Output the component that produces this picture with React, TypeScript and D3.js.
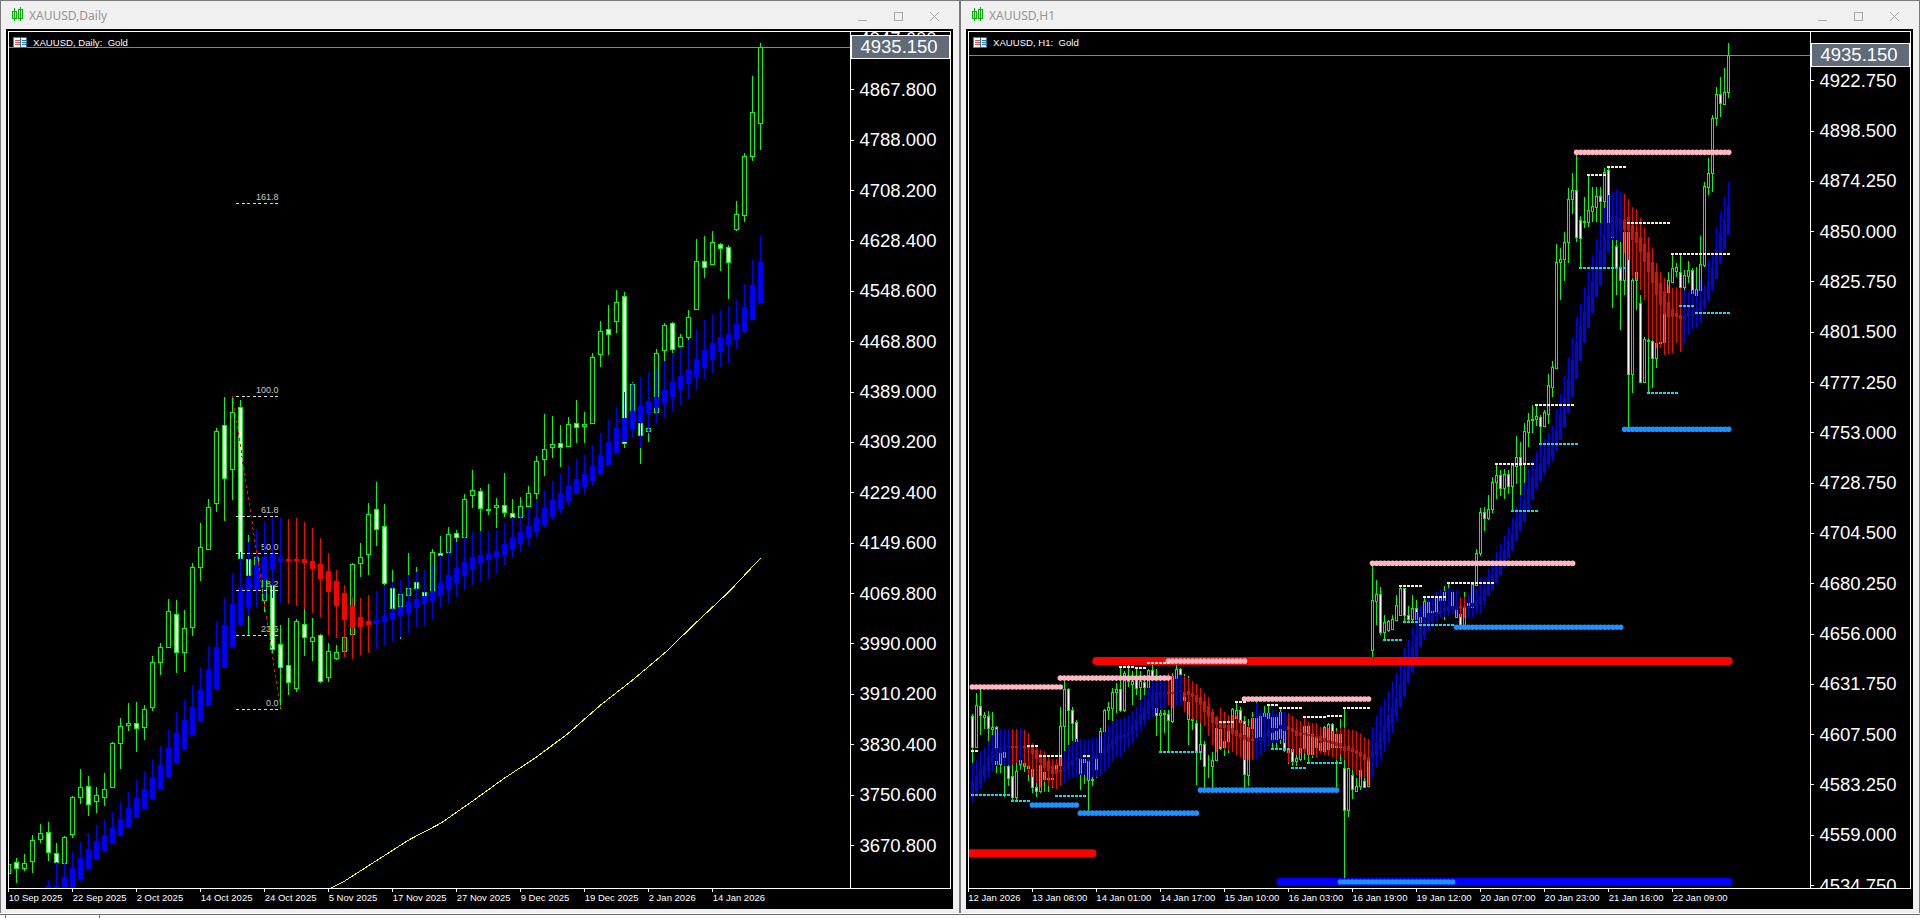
import * as d3 from "d3";
import React from "react";

type Bar = number[]; // open, high, low, close
type Level = number[]; // first bar, last bar, price

// XAUUSD daily candles: open, high, low, close
const dailyCandles: Bar[] = [
  [3627,3640.7,3626.5,3640.3],[3644.4,3649.8,3611.1,3633.9],[3634.9,3656.1,3630.1,3641.8],[3645,3686.7,3626,3678.3],[3679.9,3704.1,3674.5,3689.3],
  [3690.9,3707.3,3646,3659.3],[3658.6,3673.5,3631.2,3643.4],[3641.8,3685,3640.7,3684],[3687.8,3748.4,3682.4,3746.4],[3746.4,3790.7,3735.8,3763.2],
  [3764.8,3780.1,3717.2,3735.3],[3740,3762.2,3722,3749.5],[3746.4,3784.4,3733.1,3759],[3763.2,3834,3762.7,3832.9],[3831.9,3872,3791.7,3858.8],
  [3860.4,3895.3,3851.9,3864.5],[3863.6,3896.9,3818.6,3855.7],[3857.3,3892.1,3837.6,3885.8],[3889.9,3970.2,3883.5,3960.2],[3960.2,3990.3,3940.6,3984],
  [3984.9,4060,3984,4041],[4036.3,4058.9,3943.7,3976.1],[3976.1,4043.1,3944.9,4014.1],[4015.7,4117,4001.9,4110.7],[4111.6,4180.4,4089.5,4142.4],
  [4139.2,4218.4,4138.1,4206.7],[4212.1,4331.3,4198.3,4326.1],[4336.6,4380,4184.5,4251.7],[4265.9,4381.6,4217.3,4356.2],[4365.1,4375.7,4123.4,4125],
  [4123.4,4161.9,4002.3,4098.5],[4106.4,4153.9,4090.6,4126.5],[4058.9,4114.3,4039.9,4098.5],[4082.7,4087.4,3973.3,3980.8],[3988.7,4019.3,3885.8,3952.3],
  [3955.5,4029.9,3908.4,3929.5],[3920,4028.3,3913.6,4025.2],[4020.4,4046.3,3970.2,4000.8],[3994.4,4029.9,3962.8,4000.8],[4003.9,4005,3927.9,3931.1],
  [3937.4,3990.3,3929.5,3978.6],[3967.5,3987.6,3963.9,3976.1],[3978.6,4043.1,3970.7,3999.8],[4004.6,4117,4004.3,4115.4],[4117,4148.7,4095.8,4126.5],
  [4131.3,4212.1,4098.5,4194.7],[4202.6,4245.8,4144.4,4170.9],[4176.6,4211,4081.6,4085.3],[4077.4,4106.4,4043.1,4045.7],[4049.9,4090.6,3997.1,4067.9],
  [4066.8,4132.9,4027.2,4077.4],[4087.9,4111.6,4043.1,4077.4],[4072,4080,4058.9,4065.2],[4072,4139.2,4058.9,4134.5],[4132.9,4160.3,4074.7,4129.7],
  [4134.5,4174.1,4134.2,4163],[4164.6,4169.8,4151.3,4158.2],[4159.2,4226.8,4158.7,4218.4],[4225.7,4264.8,4205.1,4232.7],[4231.1,4235.8,4168.2,4205.1],
  [4201.5,4242.6,4193.5,4203],[4205.7,4220,4173.4,4208.9],[4208.9,4259.6,4190.8,4197.8],[4197.2,4218.9,4169.8,4189.9],[4190.8,4221.6,4190.4,4207.3],
  [4208.3,4239.5,4205.7,4227.9],[4227.9,4287,4218.9,4278.6],[4282.7,4353,4255.8,4297.6],[4301.7,4350.4,4284.3,4306],[4307.1,4336.1,4270,4301.7],
  [4303.3,4348.8,4301.7,4337.2],[4338.8,4375.7,4308.1,4332.5],[4335,4356.7,4308.1,4337.2],[4339.7,4449.7,4338.8,4443.3],[4448.1,4500.8,4428.4,4484.5],
  [4487.7,4526.2,4447,4479.8],[4501.3,4549.9,4482.3,4530.5],[4540,4546.3,4300.1,4307.1],[4342.4,4403.7,4331.3,4401],[4339.7,4402.6,4273.8,4319.8],
  [4326.1,4339.3,4309.6,4330.9],[4356.2,4456,4355.1,4449.7],[4454.9,4497.2,4437.5,4494],[4498.1,4499.7,4449.7,4456],[4461.2,4480.2,4457.6,4476],
  [4476,4518.3,4470.7,4507.6],[4519.8,4630.7,4518.3,4596.4],[4596.4,4635.5,4569.4,4585.9],[4590.6,4643.4,4589.5,4625.5],[4623.3,4624.4,4580.5,4616],
  [4618.5,4620.7,4535.7,4594.8],[4647,4690.9,4643.9,4669.8],[4668.3,4766.5,4658.1,4762.7],[4761.7,4888.9,4754.3,4831.4],[4814.9,4940.7,4771.7,4935.15],
];

// smoothed heikin ashi overlay on the daily chart: open, high, low, close
const dailyHeikin: Bar[] = [
  [3540,3560,3530,3550],[3545,3570,3535,3555],[3550,3575,3540,3560],[3555,3580,3545,3565],[3560,3590,3550,3570],
  [3575.8,3615.4,3567.8,3605.9],[3583.7,3644.4,3575.8,3605.9],[3590,3644.4,3583.7,3620.6],[3602.7,3659.3,3591.6,3633.9],[3617.4,3675.1,3614.3,3650.2],
  [3633.3,3689.3,3632.3,3664],[3647.5,3702,3647,3677.2],[3661.8,3711.5,3660.2,3686.2],[3673.5,3723.1,3672.4,3697.3],[3685.6,3738.9,3685.1,3711.5],
  [3698.2,3755.3,3697.7,3728.9],[3714.1,3773.8,3713.6,3744.8],[3727.8,3787.6,3727.3,3759],[3743.7,3806.6,3743.2,3776.5],[3759.5,3827.6,3759,3797.1],
  [3778.5,3854.1,3778,3824],[3800.7,3881.5,3800.2,3847.7],[3822.9,3900.5,3822.4,3868.3],[3845.1,3924.3,3844.6,3888.9],[3867.3,3952.3,3866.8,3916.3],
  [3891.5,3986,3891,3948],[3917.9,4023.6,3917.4,3984],[3951.7,4064.1,3951.2,4018.8],[3984.9,4100.1,3984.4,4052.6],[4018.8,4134.5,4017.7,4079],
  [4048.3,4151.3,4033.6,4095.3],[4072.7,4170.9,4048.3,4113.9],[4090.6,4184,4058.9,4127],[4108,4190.8,4062.5,4132.3],[4119.1,4189.9,4053.7,4127],
  [4123.8,4187.2,4052.6,4122.3],[4124.3,4188.3,4049.9,4120.7],[4123.4,4182.9,4044.6,4117],[4120.7,4172.9,4037.8,4108],[4115.9,4157.1,4032.4,4092.2],
  [4104.8,4132.9,4003.5,4071.6],[4089,4106.4,3998.3,4049.4],[4069.5,4082.7,3969.1,4027.2],[4049.4,4063.2,3965.4,4015],[4031.5,4062.1,3971.8,4016.1],
  [4025.6,4066.8,3974.9,4019.3],[4020.9,4073.2,3980.8,4027.2],[4024.5,4082.2,3986,4033.6],[4027.2,4087.4,3994.4,4039.9],[4033.6,4090.6,4000.8,4047.3],
  [4038.8,4098.5,4006.6,4056.2],[4045.7,4103.3,4016.6,4061],[4053,4107.5,4019.3,4065.7],[4057.3,4117,4027.2,4073.2],[4065.7,4130.2,4048.3,4085.3],
  [4075.2,4140.8,4052.6,4098],[4086.3,4151.3,4064.1,4109.6],[4097.4,4159.2,4074.7,4118.6],[4106.9,4167.1,4082.7,4126.5],[4116.4,4168.2,4087.9,4129.7],
  [4122.7,4168.2,4090.6,4131.8],[4127,4169.8,4101.2,4136.5],[4130.2,4180.4,4114.3,4147.6],[4138.6,4189.9,4125,4158.2],[4148.1,4196.2,4135.4,4166.6],
  [4157.6,4205.7,4146,4175.6],[4167.1,4218.4,4158.2,4189.9],[4177.7,4233.1,4174.1,4204.6],[4190.4,4247.4,4187.2,4217.3],[4203,4258,4196.7,4227.9],
  [4214.6,4271.2,4208.3,4239.5],[4227.3,4281.8,4226.8,4250.1],[4237.9,4288.6,4226.8,4258.5],[4247.4,4304.4,4240,4271.2],[4259,4322.9,4255.3,4288.1],
  [4272.7,4344,4272,4309.2],[4291.3,4364.1,4291,4330.9],[4309.6,4388.8,4309.2,4346.7],[4329.3,4402.2,4316,4357.8],[4342,4411.7,4299.7,4366.2],
  [4354,4419.6,4323.4,4373.6],[4362.6,4425.9,4338.8,4380],[4371.4,4437.5,4347.7,4391.1],[4380.9,4448.6,4358.3,4403.7],[4392,4460.1,4367.3,4413.7],
  [4401.5,4470.7,4376.8,4424.3],[4412.6,4487.7,4391.5,4440.2],[4426.9,4502.4,4408.5,4454.4],[4439.5,4511.9,4418.9,4465.5],[4452.2,4518.3,4428.4,4475],
  [4463.3,4524.6,4433.8,4479.8],[4471.3,4534.1,4456.5,4496.1],[4483.9,4559.4,4481.3,4522.5],[4502.9,4597.5,4502.4,4557.4],[4529.8,4635.5,4529.3,4593.8],
];

// long moving average on the daily chart, read every few bars
const dailyMaBars = [40, 42, 46, 50, 54, 58, 62, 66, 70, 74, 78, 82, 86, 90, 94];
const dailyMaValues = [3601, 3613.8, 3646.3, 3678.7, 3705.2, 3740.5, 3777, 3810.2, 3848.2, 3892.6, 3932.2, 3974.9, 4024, 4071.6, 4125.4];

const dailyTicks = [4947.6, 4867.8, 4788, 4708.2, 4628.4, 4548.6, 4468.8, 4389, 4309.2, 4229.4, 4149.6, 4069.8, 3990, 3910.2, 3830.4, 3750.6, 3670.8];
const dailyTimeBars = [0, 8, 16, 24, 32, 40, 48, 56, 64, 72, 80, 88];
const dailyTimeLabels = ["10 Sep 2025", "22 Sep 2025", "2 Oct 2025", "14 Oct 2025", "24 Oct 2025", "5 Nov 2025", "17 Nov 2025", "27 Nov 2025", "9 Dec 2025", "19 Dec 2025", "2 Jan 2026", "14 Jan 2026"];

const fibLevels = [0, 23.6, 38.2, 50, 61.8, 100, 161.8];
const fibHigh = 4381.6;
const fibLow = 3885.8;
const fibHighBar = 28;
const fibLowBar = 34;

// XAUUSD H1 candles: open, high, low, close
const h1Candles: Bar[] = [
  [4616,4617.2,4593.5,4601.5],[4601.5,4627.4,4601.2,4621.3],[4621.1,4629.4,4607.2,4616.5],[4615.9,4618.4,4610.1,4616.8],[4616.3,4618.7,4602.4,4610.4],
  [4610.2,4618.4,4600,4610.9],[4610.9,4611.2,4588.9,4593.2],[4593.2,4600.9,4588.9,4599],[4596.6,4599.5,4577.4,4599.5],[4591.9,4599.1,4582.3,4586.3],
  [4587.4,4593.8,4575,4577.4],[4577.4,4593.8,4575,4589.8],[4593.2,4599,4590.3,4595.1],[4592.2,4597.5,4589.3,4593.7],[4591.2,4601.5,4585.1,4591.9],
  [4590.8,4602.4,4579.1,4581.8],[4582,4587,4577.4,4580.3],[4580.3,4592.7,4579.1,4592.7],[4585.8,4591.9,4579.8,4589],[4585.8,4588.9,4579.8,4586.3],
  [4585.8,4588.9,4581.5,4586.3],[4590.3,4595.1,4581.2,4592.7],[4592.7,4620.8,4587.9,4611.5],[4611.2,4633.3,4598.5,4629.2],[4629.2,4629.8,4601.5,4618.9],
  [4619.2,4620.8,4604,4613.1],[4613.3,4614.4,4589.8,4604],[4588.9,4603.2,4580.7,4596.6],[4594.2,4597.5,4583.6,4597.5],[4585.5,4597.5,4570.2,4597.5],
  [4585.2,4596.7,4582.3,4585.8],[4590.8,4596,4586.3,4596],[4598.4,4610.6,4591.9,4608.8],[4608.8,4619.7,4598.5,4619.2],[4618.9,4623.2,4614.4,4620.5],
  [4620,4629.7,4613.6,4628],[4628,4632.1,4617.6,4629.2],[4629.2,4639.3,4618.4,4619.2],[4619.2,4637.7,4618.4,4636.9],[4632.9,4640.6,4630.2,4633.7],
  [4631.8,4638,4621.3,4633.2],[4635.3,4639.3,4626.5,4629.8],[4630,4638,4624.1,4632.9],[4632.6,4636,4624.1,4630],[4630.2,4639,4622.6,4638.5],
  [4638.5,4640.9,4629.8,4634.5],[4620.3,4639,4606.7,4616.8],[4616.8,4619.6,4599.1,4617.6],[4617.2,4619.2,4608,4617.6],[4617.3,4619.2,4599.1,4614.1],
  [4613.9,4636.9,4612.8,4635.3],[4634.5,4640.9,4628.9,4639],[4638.8,4639.4,4634.7,4636.4],[4624.1,4636.6,4621.6,4626.5],[4614.7,4635.3,4602.4,4623.2],
  [4614.5,4622.6,4609.6,4614.9],[4612.8,4614.4,4583.1,4599.1],[4599.1,4612.8,4594.8,4602.9],[4602.9,4604.3,4581.5,4591.9],[4591.9,4597.5,4586.3,4592.2],
  [4591.9,4598.9,4581.5,4595],[4595,4610.7,4594.3,4610.4],[4610.1,4619.7,4600,4600.8],[4601.2,4616.8,4597.1,4604.3],[4604.3,4616.8,4598.5,4609.1],
  [4610.6,4620.3,4608.6,4619.6],[4615.4,4622.7,4613,4619.2],[4618.9,4620.8,4612,4613.3],[4613.6,4616.3,4581.5,4588.2],[4587.6,4614.9,4582.6,4610.9],
  [4610.4,4618.1,4604.8,4615.2],[4615.2,4623.2,4600.4,4605.2],[4605.6,4616.8,4604.8,4616],[4616,4621.2,4615.4,4617.6],[4615.2,4621.2,4610.6,4617.6],
  [4605.2,4616,4600.4,4615.7],[4605.2,4617.8,4600.4,4615.9],[4605.6,4620.3,4602.9,4618.4],[4610.1,4618.4,4599.1,4600],[4599.1,4610.6,4593.2,4600.8],
  [4600.3,4600.9,4592.2,4594.3],[4594.3,4600.9,4592.2,4596],[4595.6,4607.2,4594.6,4600.8],[4600.8,4615.7,4594.8,4611.5],[4611.5,4612,4593.1,4597.9],
  [4597.9,4608,4596,4607.7],[4601.5,4611,4600.9,4605.6],[4600,4605.7,4599.6,4603.2],[4599.6,4611.2,4599.5,4610.7],[4600.3,4613,4599.6,4612.3],
  [4612.5,4613.1,4600.9,4601.2],[4601.2,4610.6,4582,4607.7],[4601.2,4614.8,4594.3,4607.7],[4591.1,4620,4538.3,4570.7],[4570.7,4591.8,4567.3,4591.4],
  [4587.9,4591.9,4576.3,4581],[4580.2,4586.3,4579.8,4582.6],[4582.3,4590.3,4580.7,4590.3],[4584.7,4590.3,4581.5,4581.8],[4582.3,4594.6,4582.1,4594.3],
  [4648.2,4689.1,4644.9,4672.2],[4671.9,4681.9,4660.2,4675.2],[4675.2,4678.4,4655.4,4656.5],[4656.5,4665,4652.2,4661.8],[4657.8,4662.6,4656.8,4662.1],
  [4658.3,4665,4657.8,4663],[4662.6,4674.7,4662.6,4669.8],[4665,4678.7,4664.5,4678],[4677.9,4678,4661.8,4664.7],[4665,4669.5,4661,4663.1],
  [4663.1,4674.7,4661,4668.2],[4668.4,4672.2,4662.6,4663.1],[4661.2,4664.2,4657.8,4663.9],[4664.2,4673.8,4663.4,4671.8],[4666.2,4673.8,4664,4671.4],
  [4666,4673.2,4665.5,4667],[4666.6,4673.8,4666.3,4673.5],[4674.2,4675.6,4665,4672.2],[4672.2,4679,4662.6,4676],[4675.8,4680.3,4674.7,4676.2],
  [4676.2,4676.6,4668.9,4669.8],[4664.2,4668.9,4664,4668.2],[4665.4,4666.5,4659.7,4660.2],[4660.2,4676.1,4660.1,4669],[4669.3,4674.7,4667.4,4670.8],
  [4669,4681,4668.4,4680],[4679.5,4696.7,4679.2,4694.7],[4694.7,4716.4,4693.5,4714.5],[4714.5,4716.9,4705.2,4711.9],[4711.9,4722.9,4710.8,4716],
  [4716,4731.4,4714.3,4729],[4729,4737.3,4720.9,4732.5],[4732.2,4734.9,4722.4,4726.1],[4726.4,4735.4,4720.9,4732.8],[4732.8,4734.9,4723.4,4727.3],
  [4727.3,4737.3,4715.3,4737.3],[4737,4751.3,4728.2,4741],[4741,4748.3,4722.9,4737.3],[4738.1,4757.4,4728.6,4753.6],[4753.2,4762.2,4745.7,4758.9],
  [4758.9,4766.2,4752.6,4759.4],[4759.4,4766.2,4756.1,4761],[4760.6,4761.4,4747.8,4756.3],[4756.3,4763.8,4755.8,4762.7],[4761.8,4781.2,4757.1,4775.7],
  [4775,4787.5,4770.2,4784.4],[4783.9,4843.7,4783.6,4835],[4835,4841.8,4816.9,4836.5],[4836.5,4849.5,4826.2,4845],[4844.7,4870.7,4834.7,4865.4],
  [4865.4,4878,4858.3,4869.9],[4869.9,4886.8,4845,4847.1],[4855.4,4857.3,4832.4,4846.6],[4854.4,4866.5,4851.4,4855.1],[4854.6,4877.1,4852.2,4860.2],
  [4859.9,4871.2,4854.6,4862.2],[4861.8,4871.2,4854.6,4867],[4867,4871.5,4825.7,4864.7],[4864.7,4880.3,4853.8,4878.7],[4879.5,4881.1,4839.4,4854.6],
  [4847.2,4857.8,4813,4855.4],[4842.9,4847.4,4819.3,4832.9],[4832.9,4847.4,4802.4,4826.5],[4826.5,4849.8,4819.3,4849.8],[4849.8,4850.1,4755.2,4781.2],
  [4781.2,4827.4,4771.9,4826.5],[4826.5,4830.8,4812.1,4830.5],[4815.3,4819.3,4776.9,4777.5],[4777.5,4798.9,4777.3,4797.9],[4797.1,4808.8,4772.2,4797.6],
  [4797.2,4797.6,4774.3,4788.7],[4788.7,4797.2,4783.9,4796.2],[4796.2,4810.6,4793.7,4796.7],[4796.7,4819.3,4796,4810.4],[4820.9,4830.5,4820,4826.5],
  [4825.7,4838.9,4825.2,4832.4],[4831,4834.5,4828.1,4832.6],[4830.5,4838.5,4822.2,4823],[4823,4831.3,4820.4,4828.9],[4828.6,4835.8,4824.9,4831.2],
  [4831.2,4832.3,4819.3,4820.4],[4819.3,4832.8,4818.3,4822],[4821.7,4847.7,4820.7,4834.2],[4833.7,4873.6,4832.8,4871.8],[4871.5,4885.4,4867.5,4878],
  [4878,4906,4869,4904.4],[4904.4,4919.4,4900.7,4916],[4916,4924.2,4904.9,4911.7],[4911.3,4928.5,4910.8,4917],[4917,4940.6,4914.4,4935.15],
];

// smoothed heikin ashi overlay on the H1 chart: open, high, low, close
const h1Heikin: Bar[] = [
  [4576.7,4593.7,4575,4585],[4579.9,4595.1,4578.3,4587.4],[4583.6,4598.9,4581,4590.8],[4586.8,4601.3,4584.2,4592.7],[4589.8,4604,4586.5,4596.6],
  [4593.1,4607.2,4589.5,4599.5],[4594.3,4610.1,4591.9,4601],[4598.4,4610.1,4593.8,4601.9],[4599,4609.9,4592.2,4602.4],[4600.8,4609.9,4592.4,4602.4],
  [4601.9,4610.1,4592.7,4600.9],[4601.9,4610.1,4593.5,4601],[4601,4610.9,4594,4601.9],[4601.9,4609.6,4592.2,4600.8],[4601.9,4608,4587.9,4600.3],
  [4601.5,4603.2,4587,4598],[4600,4601.9,4583.9,4595.5],[4597.9,4600,4582,4593.5],[4596.7,4599.5,4584.2,4591.1],[4594.3,4597.5,4582.6,4589.8],
  [4592.2,4595.5,4582,4588.4],[4590.8,4595.6,4581,4588.4],[4590,4596.7,4582.3,4589.5],[4589.5,4599.6,4583.9,4591.9],[4590.3,4602.2,4585.8,4594.3],
  [4592.2,4603.2,4586.8,4595.1],[4594.3,4605.2,4586.9,4596.4],[4595.5,4605.1,4587.9,4596.7],[4595.6,4605.2,4587.9,4596.7],[4594.3,4605.2,4585.5,4597.2],
  [4595.6,4605.6,4586.8,4597],[4595.6,4605.6,4586.8,4597],[4597,4606.8,4587.1,4598.4],[4597.2,4609.1,4589,4600.8],[4598.4,4611.7,4591.6,4602.9],
  [4600.4,4613.9,4594,4605.1],[4602.4,4614.8,4596.4,4606.7],[4604.4,4614.8,4596.7,4607.2],[4605.6,4615.7,4598.9,4607.7],[4605.9,4616.8,4601,4609.2],
  [4607.7,4618.4,4603.2,4611.7],[4609.6,4620.8,4605.6,4614.4],[4611.7,4623.6,4608.3,4617.3],[4614.4,4626.5,4611.2,4620.8],[4617.3,4630.4,4614.1,4624.1],
  [4619.6,4633.7,4615.2,4627.3],[4621.6,4635.3,4617.6,4628],[4624.9,4636.1,4619.2,4628.4],[4625.3,4636.1,4620.2,4628.4],[4628,4636.9,4621.6,4626.9],
  [4627.8,4635.3,4620.2,4626.9],[4626.8,4635.6,4621.1,4628.4],[4627.3,4636.1,4621.6,4628.9],[4628,4635.6,4618.3,4625.3],[4628.4,4634.5,4616.8,4626.5],
  [4627.3,4633.2,4614.4,4625.2],[4626.5,4631.8,4614.4,4622.9],[4625.2,4629.7,4612.8,4621.3],[4623.6,4627.5,4611.2,4618.4],[4621.1,4625.3,4606.7,4615.7],
  [4618.4,4619.6,4602.4,4612.8],[4615.7,4616,4598.7,4612],[4612.8,4620.2,4601.5,4610.4],[4612.8,4618.4,4600,4610.4],[4612,4616.8,4600,4609.1],
  [4610.4,4616.8,4598.7,4607.7],[4609.6,4616,4597.6,4606.7],[4608,4614.4,4596.7,4605.6],[4607,4612.5,4595.1,4604.8],[4606,4611.2,4594.8,4603.5],
  [4605.2,4615.7,4595.1,4604.3],[4604.4,4622.5,4595.6,4605.6],[4604,4619.2,4597.6,4606],[4604,4617.6,4599.1,4608],[4606,4617.6,4601.9,4610.1],
  [4608,4619.2,4603.2,4610.4],[4609.2,4617.6,4603.2,4610.4],[4609.9,4618.4,4604.8,4611.7],[4609.2,4618.4,4603.2,4611.7],[4611.2,4617.6,4593.5,4609.6],
  [4610.4,4616.3,4599.1,4608.3],[4609.6,4614.8,4597.6,4606.7],[4608.5,4614,4598.4,4606.7],[4608,4615.7,4598.4,4607.3],[4607.7,4613.3,4597.6,4607],
  [4607.2,4612.8,4597.1,4605.9],[4606.7,4612.8,4596.7,4605.4],[4606.7,4610.7,4598.4,4604.3],[4605.6,4610.4,4597.2,4603.5],[4604.8,4610.4,4597.1,4603.2],
  [4604.3,4609.1,4596.7,4602.9],[4603.6,4609.1,4595.1,4601.9],[4603.2,4610.4,4597.6,4601.5],[4601.9,4610.4,4595.1,4599.5],[4601.9,4609.9,4591.1,4599.5],
  [4600.8,4609.6,4590.3,4599],[4600,4609.2,4587.9,4598],[4599.1,4607.7,4586.8,4596.7],[4597.9,4606,4586.3,4595.1],[4596.7,4605.1,4583.1,4594.3],
  [4596,4610.9,4586.8,4598.7],[4597.1,4616.3,4591.4,4603.5],[4600,4621.1,4594.3,4608.5],[4604.3,4624.4,4599.1,4612],[4608.3,4628,4603.2,4616.5],
  [4612,4632.9,4608,4620.7],[4616,4636.9,4613.6,4624.9],[4620.7,4643.3,4620.2,4631.8],[4626,4649.1,4625,4638.5],[4632.1,4653,4631.8,4643.3],
  [4637.5,4659.2,4637.2,4649.7],[4641.7,4666.5,4641.6,4655.4],[4649.7,4669.8,4649,4661],[4654.6,4670.8,4653,4663.9],[4658.6,4673.7,4656.8,4665.8],
  [4661.8,4674.7,4658.7,4665.8],[4664.5,4676.1,4661.6,4666.6],[4665.5,4677,4663.6,4667.4],[4666.2,4676.6,4664,4668.2],[4667.1,4678,4665,4669.5],
  [4667.8,4677.6,4665.5,4669.5],[4667.4,4677,4664.5,4669.8],[4669.4,4673.8,4664.2,4668.4],[4669.4,4673.8,4663.4,4668.4],[4668.2,4674.7,4664.2,4669.4],
  [4668.7,4679.5,4664.2,4670.6],[4668.7,4677.1,4665.8,4672.2],[4669.8,4682.7,4665.8,4674.2],[4671.9,4683,4669.8,4677.1],[4674.3,4687.1,4674.3,4681.6],
  [4677.1,4691.5,4677.1,4684.3],[4680.6,4695.5,4680.6,4689.1],[4684.3,4699.6,4684.3,4692.4],[4688.3,4703.1,4688.3,4696.4],[4692.2,4707.3,4692.2,4700.4],
  [4696,4711.9,4696,4704.4],[4700.4,4717.2,4700.4,4710.3],[4705.2,4722.9,4705.2,4714.1],[4710,4728.5,4710,4720.5],[4715.6,4734.9,4715.6,4726.1],
  [4720.5,4739.7,4720.5,4731.7],[4725.8,4743.3,4725.8,4735.4],[4730.1,4746.5,4729.3,4738.1],[4734.1,4749.7,4732.5,4741.6],[4737.8,4752.9,4735.7,4745.4],
  [4741.3,4756.3,4738.9,4748.1],[4744.5,4764.1,4744.2,4754.2],[4749.4,4771.6,4749.4,4761.9],[4755.3,4780.2,4755.3,4769.8],[4762.2,4789.2,4762.2,4778.8],
  [4770.2,4798.4,4770.2,4787.9],[4778.8,4808.8,4778.8,4796.7],[4787.4,4815.6,4787.4,4804.5],[4796,4823,4796,4811.5],[4803.5,4830.3,4803.5,4818.8],
  [4810.7,4838.5,4810.7,4826],[4818.4,4846.3,4818.4,4833.4],[4823.7,4853.8,4823.6,4840.9],[4833.4,4861.2,4832.9,4848.2],[4840.1,4867.5,4839.4,4853.8],
  [4847.4,4869.5,4845.8,4857],[4851.7,4870.4,4845.8,4857.3],[4850.6,4869.1,4845,4857],[4855.4,4867.9,4839.4,4850.6],[4857,4865.5,4836.1,4850.2],
  [4853,4861.5,4828.1,4845.8],[4849.5,4860.6,4826.5,4844.2],[4847.1,4856.2,4821.7,4839.8],[4843.8,4851.7,4816.9,4835],[4839.8,4847.1,4798.4,4830.5],
  [4835,4842.1,4797.6,4824.9],[4830.5,4834.8,4793.6,4819.3],[4824.9,4830.5,4793.6,4814.4],[4821.2,4827.3,4790.4,4810.1],[4815.7,4824.1,4790.8,4808.8],
  [4812.5,4822.8,4791.2,4808.5],[4810.4,4823,4796.3,4808.8],[4809.6,4822.5,4791.9,4807.5],[4807.2,4821.7,4796,4809.6],[4808.8,4820.9,4800,4811.2],
  [4809.1,4821.7,4802.4,4811.2],[4810.1,4821.7,4803.2,4812.9],[4811.7,4826.5,4805.6,4816],[4813.3,4824.1,4812.4,4816.9],[4816.9,4836.1,4816,4826.2],
  [4821.7,4839.8,4821.2,4832.1],[4827.1,4852.2,4826.8,4841.3],[4834.5,4859.4,4834.2,4849],[4841.6,4866.4,4841.3,4855.9],[4848.2,4873.9,4848,4862.6],
];

// heavy levels on the H1 chart: first bar, last bar, price
const h1ThickRed: Level[] = [[-2, 30, 4550.1], [31, 189, 4642.7]];
const h1ThickBlue: Level[] = [[77, 189, 4536.2]];
const h1PinkDots: Level[] = [[0, 22, 4630.2], [22, 49, 4634.5], [49, 68, 4642.7], [68, 99, 4624.4], [100, 150, 4689.9], [151, 189, 4888]];
const h1BlueDots: Level[] = [[15, 26, 4573.3], [27, 56, 4569.4], [57, 91, 4580.5], [92, 120, 4536.2], [121, 162, 4659], [163, 189, 4754.5]];
const h1SmallHigh: Level[] = [
  [0, 1, 4599.4], [14, 16, 4601.9], [17, 22, 4597.1], [28, 29, 4597.1], [37, 40, 4640], [41, 43, 4639.5], [44, 49, 4641.9], [62, 65, 4613.4],
  [66, 68, 4623.1], [74, 76, 4621.6], [77, 82, 4620.2], [83, 88, 4615.9], [89, 92, 4616.3], [93, 99, 4620.2], [107, 112, 4679], [113, 118, 4673.8],
  [119, 130, 4680.5], [131, 140, 4737.9], [141, 150, 4766.4], [154, 158, 4877.2], [159, 163, 4881.1], [164, 174, 4854.1], [175, 189, 4839],
];
const h1SmallLow: Level[] = [
  [0, 9, 4578.3], [10, 14, 4575.4], [21, 28, 4577.8], [47, 57, 4599], [75, 79, 4600.4], [80, 83, 4591.3], [84, 92, 4593.7], [103, 107, 4653],
  [108, 111, 4661.6], [112, 120, 4659.9], [135, 141, 4715.3], [142, 151, 4747.6], [152, 163, 4832.4], [169, 176, 4772.2], [177, 180, 4814.1], [181, 189, 4810.6],
];

const h1Ticks = [4922.75, 4898.5, 4874.25, 4850, 4825.75, 4801.5, 4777.25, 4753, 4728.75, 4704.5, 4680.25, 4656, 4631.75, 4607.5, 4583.25, 4559, 4534.75];
const h1TimeBars = [-1, 15, 31, 47, 63, 79, 95, 111, 127, 143, 159, 175];
const h1TimeLabels = ["12 Jan 2026", "13 Jan 08:00", "14 Jan 01:00", "14 Jan 17:00", "15 Jan 10:00", "16 Jan 03:00", "16 Jan 19:00", "19 Jan 12:00", "20 Jan 07:00", "20 Jan 23:00", "21 Jan 16:00", "22 Jan 09:00"];

const lastPrice = 4935.15;

const LIME = "#00ff00";
const axisFont = "'Liberation Sans', Arial, sans-serif";
const fmt = d3.format(".3f");

const Candles = ({ bars, x, y, half }) =>
  bars.map((d, i) => {
    const cx = Math.floor(x(i)) + 0.5;
    const top = Math.round(y(Math.max(d[0], d[3]))) + 0.5;
    const bot = Math.round(y(Math.min(d[0], d[3]))) + 0.5;
    return (
      <g key={i} stroke={LIME} strokeWidth={1} shapeRendering="crispEdges">
        <line x1={cx} x2={cx} y1={y(d[1])} y2={y(d[2])} />
        <rect x={cx - half} y={top} width={half * 2} height={bot - top} fill={d[3] >= d[0] ? "#000" : "#fff"} />
      </g>
    );
  });

const Heikin = ({ bars, x, y, width }) =>
  bars.map((d, i) => {
    const cx = Math.floor(x(i)) + 0.5;
    const color = d[3] >= d[0] ? "#0000ff" : "#ff0000";
    const top = y(Math.max(d[0], d[3]));
    const bot = y(Math.min(d[0], d[3]));
    return (
      <g key={i} fill={color} shapeRendering="crispEdges">
        <rect x={cx - 0.5} y={y(d[1])} width={1} height={y(d[2]) - y(d[1])} />
        <rect x={cx - width / 2} y={top} width={width} height={Math.max(bot - top, 2)} />
      </g>
    );
  });

const WindowFrame = ({ left, title, caption, id, x, y, ticks, timeBars, timeLabels, children }) => {
  const axisX = left + 850;
  const bottom = 888;
  const boxY = y(lastPrice);
  return (
    <g>
      <rect x={left + 0.5} y={0.5} width={959} height={916} fill="#f0f0f0" stroke="#7a7a7a" />
      <rect x={left + 6} y={29} width={947} height={880} fill="#000" />
      {/* title bar */}
      <g fill="none" stroke="#00b400" strokeWidth={1.3} shapeRendering="crispEdges">
        <rect x={left + 12.5} y={11.5} width={4} height={7} />
        <line x1={left + 14.5} x2={left + 14.5} y1={8} y2={21} />
        <rect x={left + 18.5} y={9.5} width={4} height={9} />
        <line x1={left + 20.5} x2={left + 20.5} y1={7} y2={21} />
      </g>
      <text x={left + 29} y={19.5} fontFamily="'Noto Sans', sans-serif" fontSize={12} fill="#959595">{title}</text>
      <g stroke="#a8a8a8" fill="none" shapeRendering="crispEdges">
        <line x1={left + 858} x2={left + 867} y1={20.5} y2={20.5} />
        <rect x={left + 894.5} y={12.5} width={8} height={8} />
        <line x1={left + 930} x2={left + 939} y1={12} y2={21} shapeRendering="auto" />
        <line x1={left + 939} x2={left + 930} y1={12} y2={21} shapeRendering="auto" />
      </g>
      <clipPath id={`plot-${id}`}>
        <rect x={left + 9} y={32} width={841} height={bottom - 32} />
      </clipPath>
      <clipPath id={`axis-${id}`}>
        <rect x={axisX} y={32} width={100} height={bottom - 32} />
      </clipPath>
      <line x1={left + 9} x2={axisX} y1={Math.round(boxY) + 0.5} y2={Math.round(boxY) + 0.5} stroke="#778899" shapeRendering="crispEdges" />
      <g clipPath={`url(#plot-${id})`}>{children}</g>
      {/* caption with flag */}
      <g shapeRendering="crispEdges">
        <rect x={left + 13.5} y={37.5} width={7} height={10} fill="#fff" stroke="#e0523f" />
        <rect x={left + 20.5} y={37.5} width={6} height={10} fill="#fff" stroke="#1f6fbf" />
        <path d={`M${left + 15} 40.5H${left + 20}M${left + 15} 42.5H${left + 20}M${left + 15} 44.5H${left + 20}`} stroke="#e0523f" />
        <path d={`M${left + 22} 40.5H${left + 26}M${left + 22} 42.5H${left + 26}M${left + 22} 44.5H${left + 26}`} stroke="#1f6fbf" />
      </g>
      <text x={left + 33} y={45.5} fontFamily={axisFont} fontSize={9.6} fill="#fff" xmlSpace="preserve">{caption}</text>
      {/* frame and axes */}
      <rect x={left + 8.5} y={31.5} width={942} height={bottom - 31} fill="none" stroke="#fff" shapeRendering="crispEdges" />
      <line x1={axisX + 0.5} x2={axisX + 0.5} y1={32} y2={bottom} stroke="#fff" shapeRendering="crispEdges" />
      <g clipPath={`url(#axis-${id})`}>
        {ticks.map((t) => (
          <g key={t}>
            <line x1={axisX} x2={axisX + 4} y1={Math.round(y(t)) + 0.5} y2={Math.round(y(t)) + 0.5} stroke="#fff" shapeRendering="crispEdges" />
            <text x={axisX + 9.5} y={y(t) + 6.5} fontFamily={axisFont} fontSize={18.5} fill="#fff">{fmt(t)}</text>
          </g>
        ))}
      </g>
      <rect x={axisX + 1.5} y={boxY - 11.5} width={98} height={23} fill="#5f6b78" stroke="#fff" shapeRendering="crispEdges" />
      <text x={axisX + 10.5} y={boxY + 6.5} fontFamily={axisFont} fontSize={18.5} fill="#fff">{fmt(lastPrice)}</text>
      {timeBars.map((b, i) => (
        <g key={b}>
          <line x1={Math.floor(x(b)) + 0.5} x2={Math.floor(x(b)) + 0.5} y1={bottom} y2={bottom + 4} stroke="#fff" shapeRendering="crispEdges" />
          <text x={x(b)} y={bottom + 13} fontFamily={axisFont} fontSize={9.5} fill="#fff">{timeLabels[i]}</text>
        </g>
      ))}
    </g>
  );
};

const DailyChart = () => {
  const x = d3.scaleLinear().domain([0, 94]).range([8.7, 760.7]);
  const y = d3.scaleLinear().domain([3670.8, 4867.8]).range([845, 89.3]);
  const maLine = d3.line<number>().x((d) => x(d)).y((_, i) => y(dailyMaValues[i]));
  const fibPrice = (l: number) => fibLow + ((fibHigh - fibLow) * l) / 100;
  return (
    <WindowFrame left={0} title="XAUUSD,Daily" caption="XAUUSD, Daily:  Gold" id="d1" x={x} y={y}
      ticks={dailyTicks} timeBars={dailyTimeBars} timeLabels={dailyTimeLabels}>
      {fibLevels.map((l) => (
        <text key={l} x={278.5} y={y(fibPrice(l)) - 3} textAnchor="end" fontFamily={axisFont} fontSize={9} fill="#c8c8c8">
          {l.toFixed(1)}
        </text>
      ))}
      <Candles bars={dailyCandles} x={x} y={y} half={2} />
      <Heikin bars={dailyHeikin} x={x} y={y} width={5} />
      <path d={maLine(dailyMaBars)} fill="none" stroke="#ffff00" strokeWidth={1} shapeRendering="crispEdges" />
      {fibLevels.map((l) => (
        <line key={l} x1={236} x2={281} y1={Math.round(y(fibPrice(l))) + 0.5} y2={Math.round(y(fibPrice(l))) + 0.5}
          stroke="#d8d8d8" strokeDasharray="3 2.6" shapeRendering="crispEdges" />
      ))}
      <line x1={x(fibHighBar)} x2={x(fibLowBar)} y1={y(fibHigh)} y2={y(fibLow)} stroke="#ff0000" strokeDasharray="3 3" shapeRendering="crispEdges" />
    </WindowFrame>
  );
};

const H1Chart = () => {
  const x = d3.scaleLinear().domain([0, 189]).range([972.3, 1728.7]);
  const y = d3.scaleLinear().domain([4534.75, 4922.75]).range([885, 80.3]);
  return (
    <WindowFrame left={960} title="XAUUSD,H1" caption="XAUUSD, H1:  Gold" id="h1" x={x} y={y}
      ticks={h1Ticks} timeBars={h1TimeBars} timeLabels={h1TimeLabels}>
      <Candles bars={h1Candles} x={x} y={y} half={1} />
      <Heikin bars={h1Heikin} x={x} y={y} width={3} />
      {h1ThickRed.map((d) => (
        <line key={d[0]} x1={x(d[0])} x2={x(d[1])} y1={y(d[2])} y2={y(d[2])} stroke="#ff0000" strokeWidth={8} strokeLinecap="round" />
      ))}
      {h1ThickBlue.map((d) => (
        <line key={d[0]} x1={x(d[0])} x2={x(d[1])} y1={y(d[2])} y2={y(d[2])} stroke="#0000ff" strokeWidth={8} strokeLinecap="round" />
      ))}
      {h1PinkDots.flatMap((d) => d3.range(d[0], d[1] + 1).map((b) => (
        <circle key={`p${d[0]}-${b}`} cx={x(b)} cy={y(d[2])} r={2.8} fill="#ffb6c1" />
      )))}
      {h1BlueDots.flatMap((d) => d3.range(d[0], d[1] + 1).map((b) => (
        <circle key={`b${d[0]}-${b}`} cx={x(b)} cy={y(d[2])} r={2.8} fill="#1e90ff" />
      )))}
      {h1SmallHigh.flatMap((d) => d3.range(d[0], d[1] + 1).map((b) => (
        <rect key={`h${d[0]}-${b}`} x={Math.floor(x(b)) - 1} y={Math.round(y(d[2])) - 1} width={3} height={2} fill="#ffe4e1" shapeRendering="crispEdges" />
      )))}
      {h1SmallLow.flatMap((d) => d3.range(d[0], d[1] + 1).map((b) => (
        <rect key={`l${d[0]}-${b}`} x={Math.floor(x(b)) - 1} y={Math.round(y(d[2])) - 1} width={3} height={2} fill="#00e0e8" shapeRendering="crispEdges" />
      )))}
    </WindowFrame>
  );
};

export default function App() {
  return (
    <svg width={1920} height={918} style={{ position: "absolute", left: 0, top: 0, display: "block", background: "#f0f0f0" }}>
      <DailyChart />
      <H1Chart />
      {/* tab strip along the bottom of the terminal */}
      <rect x={0} y={913} width={1920} height={5} fill="#ffffff" />
      <line x1={0} x2={1920} y1={914.5} y2={914.5} stroke="#6e6e6e" shapeRendering="crispEdges" />
      <rect x={5.5} y={914.5} width={94} height={5} fill="#fff" stroke="#6e6e6e" shapeRendering="crispEdges" />
    </svg>
  );
}
